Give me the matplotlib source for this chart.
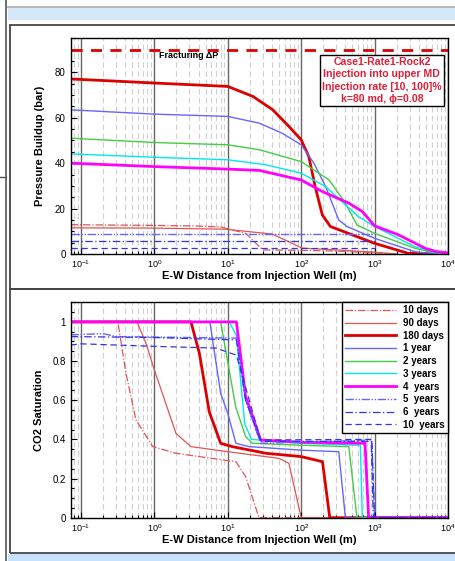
import matplotlib
matplotlib.use('Agg')
import matplotlib.pyplot as plt
from matplotlib import rcParams
from matplotlib.patches import Rectangle
from matplotlib.lines import Line2D
from matplotlib.ticker import MultipleLocator, LogLocator, NullFormatter

rcParams['font.family'] = ['Liberation Sans', 'DejaVu Sans']
rcParams['font.size'] = 7
rcParams['mathtext.fontset'] = 'custom'
rcParams['mathtext.rm'] = 'Liberation Sans'

W, H = 456, 561

# ---- pressure buildup (bar) vs distance (m), top panel ----
p180_x = [0.072, 1, 10, 22, 41, 68, 100, 127, 155, 194, 250, 1000, 2870, 10000]
p180_y = [77.1, 75.3, 73.8, 69.4, 63.5, 56.2, 50.3, 42.9, 29.7, 17.2, 12.1, 4.7, 0.3, 0.0]
p1y_x = [0.072, 1, 10, 27, 55, 100, 149, 215, 325, 420, 1000, 3560, 6000, 10000]
p1y_y = [63.5, 61.6, 60.6, 57.6, 53.2, 48.1, 40.0, 29.7, 15.0, 12.1, 6.9, 1.0, 0.2, 0.0]
p2y_x = [0.072, 1, 10, 27, 100, 240, 400, 575, 1000, 3560, 7000, 10000]
p2y_y = [51.0, 49.1, 48.1, 45.9, 40.7, 32.6, 22.4, 12.8, 9.1, 2.5, 0.3, 0.0]
p3y_x = [0.072, 1, 10, 33, 100, 215, 600, 1000, 3560, 7500, 10000]
p3y_y = [44.1, 42.6, 41.5, 39.3, 35.6, 29.7, 16.5, 12.1, 3.2, 0.3, 0.0]
p4y_x = [0.072, 1, 10, 27, 100, 194, 445, 680, 1000, 2130, 4900, 7000, 10000]
p4y_y = [40.0, 38.5, 37.4, 36.8, 32.6, 27.5, 22.4, 18.7, 12.4, 8.4, 2.5, 1.0, 0.5]
p10d_x = [0.072, 1, 4, 8, 17.6, 30, 100, 300, 1000, 2000]
p10d_y = [12.9, 12.6, 12.3, 11.9, 9.1, 1.8, 1.6, 1.3, 0.5, 0.0]
p90d_x = [0.072, 1, 9.4, 40, 68, 102, 300, 1000, 2000]
p90d_y = [11.5, 11.4, 10.9, 8.8, 5.4, 2.6, 1.8, 0.8, 0.0]
p5y_x = [0.072, 1000]
p5y_y = [8.6, 8.6]
p6y_x = [0.072, 1000]
p6y_y = [5.9, 5.9]
p10y_x = [0.072, 1000]
p10y_y = [2.8, 2.8]
frac_dp = 90

# ---- CO2 saturation vs distance (m), bottom panel ----
s10d_x = [0.072, 0.318, 0.41, 0.56, 0.95, 1.97, 4.1, 12.9, 17.5, 26.6, 10000]
s10d_y = [1.0, 1.0, 0.738, 0.5, 0.363, 0.329, 0.312, 0.286, 0.21, 0.0, 0.0]
s90d_x = [0.072, 0.58, 0.77, 1.0, 1.97, 3.15, 10, 50, 68, 100, 10000]
s90d_y = [1.0, 1.0, 0.89, 0.755, 0.43, 0.363, 0.337, 0.303, 0.278, 0.0, 0.0]
s180d_x = [0.072, 3.15, 4.1, 5.6, 8.0, 11.5, 33, 100, 195, 245, 10000]
s180d_y = [1.0, 1.0, 0.84, 0.54, 0.38, 0.363, 0.329, 0.312, 0.286, 0.0, 0.0]
s1y_x = [0.072, 5.7, 8.0, 10, 12.9, 19.5, 100, 325, 400, 10000]
s1y_y = [1.0, 1.0, 0.635, 0.533, 0.38, 0.363, 0.345, 0.337, 0.0, 0.0]
s2y_x = [0.072, 8.0, 12.8, 17.5, 21.6, 100, 445, 575, 10000]
s2y_y = [1.0, 1.0, 0.567, 0.414, 0.38, 0.37, 0.363, 0.0, 0.0]
s3y_x = [0.072, 10.5, 13.1, 17.0, 21.0, 100, 640, 680, 10000]
s3y_y = [1.0, 1.0, 0.93, 0.48, 0.40, 0.38, 0.37, 0.0, 0.0]
s4y_x = [0.072, 13.1, 17.5, 28, 100, 740, 830, 10000]
s4y_y = [1.0, 1.0, 0.62, 0.397, 0.385, 0.38, 0.0, 0.0]
s5y_x = [0.072, 0.2, 0.3, 13.1, 17.5, 28, 100, 915, 1000, 10000]
s5y_y = [0.934, 0.94, 0.925, 0.917, 0.6, 0.38, 0.385, 0.397, 0.0, 0.0]
s6y_x = [0.072, 1, 13.1, 17.5, 28, 100, 900, 960, 10000]
s6y_y = [0.925, 0.92, 0.908, 0.6, 0.39, 0.39, 0.39, 0.0, 0.0]
s10y_x = [0.072, 0.1, 1, 6.9, 13.1, 28, 100, 915, 1000, 10000]
s10y_y = [0.882, 0.888, 0.875, 0.866, 0.83, 0.397, 0.398, 0.40, 0.0, 0.0]

labels = ['10 days', '90 days', '180 days', '1 year', '2 years', '3 years',
          '4  years', '5  years', '6  years', '10  years']

c_red = '#dd0000'
c_red2 = '#e05555'
c_blue = '#6666ff'
c_blue2 = '#3333ee'
c_green = '#44cc44'
c_cyan = '#00e8e8'
c_mag = '#ff00ff'

styles = [
    dict(color=c_red2, lw=0.9, dashes=(6, 1.5, 1, 1.5)),
    dict(color=c_red2, lw=0.9, ls='-'),
    dict(color=c_red, lw=2.0, ls='-'),
    dict(color=c_blue, lw=1.0, ls='-'),
    dict(color=c_green, lw=1.0, ls='-'),
    dict(color=c_cyan, lw=1.0, ls='-'),
    dict(color=c_mag, lw=2.0, ls='-'),
    dict(color=c_blue, lw=1.0, dashes=(6, 1.2, 1, 1.2, 1, 1.2)),
    dict(color=c_blue2, lw=0.9, dashes=(6, 2, 1, 2)),
    dict(color=c_blue2, lw=0.9, dashes=(5, 3)),
]

fig = plt.figure(figsize=(W / 100, H / 100), dpi=100)


def fx(px):
    return px / W


def fy(py):
    return 1 - py / H


def rect(x0, y0, x1, y1, **kw):
    fig.add_artist(Rectangle((fx(x0), fy(y1)), fx(x1) - fx(x0), fy(y0) - fy(y1),
                             transform=fig.transFigure, **kw))


# page decoration
rect(8, 7.5, 460, 19.5, facecolor='#d6e9fb', edgecolor='none')
rect(8, 553.5, 460, 562, facecolor='#c7e0fb', edgecolor='none')
fig.add_artist(Line2D([fx(8), fx(460)], [fy(6.7), fy(6.7)], color='#aaaaaa', lw=1.2,
                      transform=fig.transFigure))
fig.add_artist(Line2D([fx(6.5), fx(6.5)], [0, 1], color='#555555', lw=1.2,
                      transform=fig.transFigure))
fig.add_artist(Line2D([0, fx(6.5)], [fy(176.5), fy(176.5)], color='#555555', lw=1.0,
                      transform=fig.transFigure))
rect(10.5, 24.5, 470, 289, facecolor='none', edgecolor='#444444', lw=1.3)
rect(10.5, 289, 470, 552.5, facecolor='none', edgecolor='#444444', lw=1.3)

ax1 = fig.add_axes([fx(70.5), fy(254), fx(448) - fx(70.5), fy(38.3) - fy(254)])
ax2 = fig.add_axes([fx(70.5), fy(517.7), fx(448) - fx(70.5), fy(302.3) - fy(517.7)])


def setup(ax):
    ax.set_xscale('log')
    ax.set_xlim(0.072, 10000)
    ax.xaxis.set_major_locator(LogLocator(base=10, numticks=10))
    ax.xaxis.set_minor_locator(LogLocator(base=10, subs=range(2, 10), numticks=20))
    ax.xaxis.set_minor_formatter(NullFormatter())
    ax.grid(which='major', axis='x', color='#666666', lw=1.0, ls='-')
    ax.grid(which='minor', axis='x', color='#d0d0d0', lw=0.8, ls=(0, (5, 3)))
    ax.set_axisbelow(True)
    ax.tick_params(which='both', direction='in', labelsize=7, width=0.8)
    ax.tick_params(which='major', length=4)
    ax.tick_params(which='minor', length=2.5)
    ax.tick_params(axis='x', which='major', labelsize=6.5, pad=3)
    for s in ax.spines.values():
        s.set_linewidth(1.0)
    ax.set_xlabel('E-W Distance from Injection Well (m)', fontsize=8, fontweight='bold',
                  labelpad=1)


setup(ax1)
setup(ax2)

# top panel
ax1.axhline(frac_dp, color=c_red, lw=2.0, dashes=(4, 3))
ax1.text(1.15, 87.3, 'Fracturing \u0394P', fontsize=6.5, fontweight='bold', va='center')
p_x = [p10d_x, p90d_x, p180_x, p1y_x, p2y_x, p3y_x, p4y_x, p5y_x, p6y_x, p10y_x]
p_y = [p10d_y, p90d_y, p180_y, p1y_y, p2y_y, p3y_y, p4y_y, p5y_y, p6y_y, p10y_y]
for xs, ys, st in zip(p_x, p_y, styles):
    ax1.plot(xs, ys, **st)
ax1.set_ylim(0, 95)
ax1.yaxis.set_major_locator(MultipleLocator(20))
ax1.yaxis.set_minor_locator(MultipleLocator(5))
ax1.set_ylabel('Pressure Buildup (bar)', fontsize=8, fontweight='bold', labelpad=7)
ax1.text(0.825, 0.805, 'Case1-Rate1-Rock2\nInjection into upper MD\nInjection rate [10, 100]%\nk=80 md, \u03d5=0.08',
         transform=ax1.transAxes, ha='center', va='center', color='#e0203a',
         fontsize=7.6, fontweight='bold', linespacing=1.3,
         bbox=dict(boxstyle='square,pad=0.2', facecolor='white', edgecolor='black', lw=1.0))

# bottom panel
s_x = [s10d_x, s90d_x, s180d_x, s1y_x, s2y_x, s3y_x, s4y_x, s5y_x, s6y_x, s10y_x]
s_y = [s10d_y, s90d_y, s180d_y, s1y_y, s2y_y, s3y_y, s4y_y, s5y_y, s6y_y, s10y_y]
for xs, ys, st, lab in zip(s_x, s_y, styles, labels):
    ax2.plot(xs, ys, label=lab, **st)
ax2.set_ylim(0, 1.1)
ax2.yaxis.set_major_locator(MultipleLocator(0.2))
ax2.yaxis.set_minor_locator(MultipleLocator(0.05))
ax2.set_yticks([0, 0.2, 0.4, 0.6, 0.8, 1.0])
ax2.set_yticklabels(['0', '0.2', '0.4', '0.6', '0.8', '1'])
ax2.set_ylabel('CO2 Saturation', fontsize=8, fontweight='bold', labelpad=6)
leg = ax2.legend(loc='upper right', bbox_to_anchor=(1.0, 1.0), borderaxespad=0,
                 fancybox=False, framealpha=1, edgecolor='black', handlelength=5.2,
                 labelspacing=0.28, borderpad=0.3, handletextpad=0.8,
                 prop={'size': 7, 'weight': 'bold'})
leg.get_frame().set_linewidth(1.0)

fig.savefig('out.png', dpi=100)
